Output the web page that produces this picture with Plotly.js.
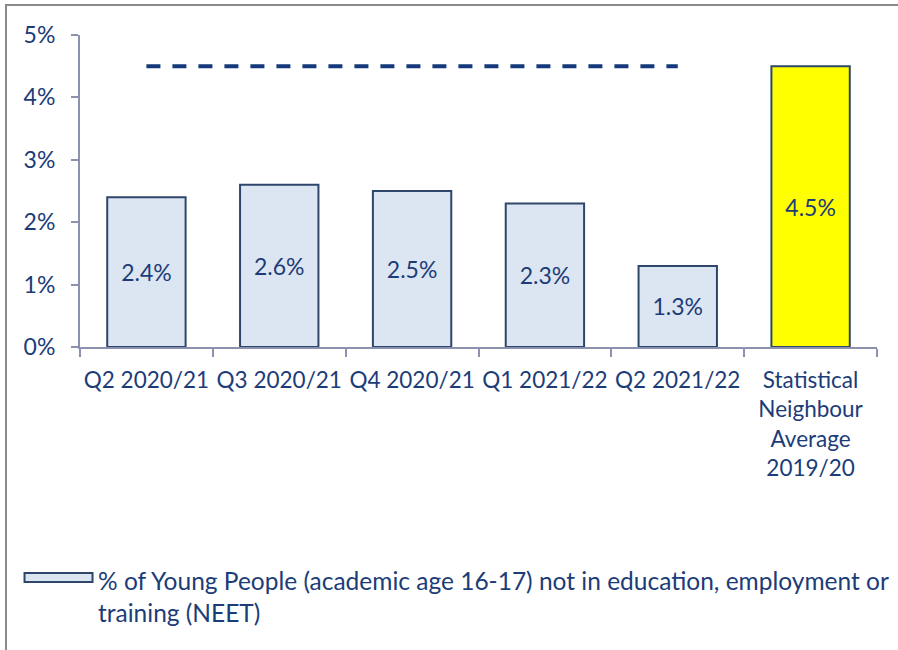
<!DOCTYPE html>
<html>
<head>
<meta charset="utf-8">
<script src="https://cdn.plot.ly/plotly-3.0.1.min.js"></script>
<style>
  html, body { margin: 0; padding: 0; background: #fff; }
  #wrap { position: relative; width: 898px; height: 650px; overflow: hidden; }
  #chart { position: absolute; left: 0; top: 0; width: 898px; height: 650px; }
  #frame { position: absolute; left: 5px; top: 4px; width: 900px; height: 700px;
           border-left: 2px solid #8a8a8a; border-top: 2px solid #8a8a8a; pointer-events: none; }
</style>
</head>
<body>
<div id="wrap">
  <div id="chart"></div>
  <div id="frame"></div>
</div>
<script>
// ---- data ----
const categories = ["Q2 2020/21", "Q3 2020/21", "Q4 2020/21", "Q1 2021/22", "Q2 2021/22",
                    "Statistical<br>Neighbour<br>Average<br>2019/20"];
const neetValues = [2.4, 2.6, 2.5, 2.3, 1.3, 4.5];
const neighbourLineCategories = ["Q2 2020/21", "Q3 2020/21", "Q4 2020/21", "Q1 2021/22", "Q2 2021/22"];
const neighbourLineValues = [4.5, 4.5, 4.5, 4.5, 4.5];
const seriesName = "% of Young People (academic age 16-17) not in education, employment or<br>training (NEET)";
const yTickValues = [0, 1, 2, 3, 4, 5];
const yTickLabels = ["0%", "1%", "2%", "3%", "4%", "5%"];

// ---- styles ----
const navy = "#1c3c78";
const axisGrey = "#8c92ad";
const barFill = "#dce6f2";
const barOutline = "#2e4669";
const highlight = "#ffff00";
const fontFamily = "Lato, 'Open Sans', sans-serif";

const barColors = categories.map((c, i) => i === categories.length - 1 ? highlight : barFill);

const traces = [
  {
    type: "bar",
    x: categories,
    y: neetValues,
    name: seriesName,
    marker: { color: barColors, line: { color: barOutline, width: 2 } },
    texttemplate: "%{y:.1f}%",
    textposition: "inside",
    insidetextanchor: "middle",
    textangle: 0,
    insidetextfont: { family: fontFamily, size: 23, color: navy },
    constraintext: "none",
    hoverinfo: "x+y",
    showlegend: true
  },
  {
    type: "scatter",
    mode: "lines",
    x: neighbourLineCategories,
    y: neighbourLineValues,
    line: { color: "#143a7c", width: 4, dash: "14px,12px" },
    showlegend: false,
    hoverinfo: "skip"
  }
];

const layout = {
  width: 898,
  height: 650,
  margin: { l: 80, r: 21, t: 35, b: 303, autoexpand: false },
  paper_bgcolor: "#ffffff",
  plot_bgcolor: "#ffffff",
  font: { family: fontFamily, size: 22, color: navy },
  bargap: 0.41,
  showlegend: true,
  xaxis: {
    type: "category",
    categoryorder: "array",
    categoryarray: categories,
    automargin: false,
    tickangle: 0,
    showline: true,
    linecolor: axisGrey,
    linewidth: 2,
    ticks: "outside",
    tickson: "boundaries",
    ticklen: 8,
    tickwidth: 2,
    tickcolor: axisGrey,
    ticklabelstandoff: 12,
    tickfont: { family: fontFamily, size: 22.5, color: navy },
    showgrid: false,
    zeroline: false,
    fixedrange: true
  },
  yaxis: {
    range: [0, 5],
    automargin: false,
    tickmode: "array",
    tickvals: yTickValues,
    ticktext: yTickLabels,
    showline: true,
    linecolor: axisGrey,
    linewidth: 2,
    ticks: "outside",
    ticklen: 7,
    tickwidth: 2,
    tickcolor: axisGrey,
    ticklabelstandoff: 11,
    tickfont: { family: fontFamily, size: 23, color: navy },
    showgrid: false,
    zeroline: false,
    fixedrange: true
  },
  legend: {
    xref: "container",
    yref: "container",
    x: 0.0145,
    y: 0.142,
    xanchor: "left",
    yanchor: "top",
    bgcolor: "rgba(0,0,0,0)",
    itemwidth: 75,
    font: { family: fontFamily, size: 24.5, color: navy },
    traceorder: "normal"
  }
};

Plotly.newPlot("chart", traces, layout, { displayModeBar: false, staticPlot: true }).then(gd => {
  // widen the legend swatch into a flat bar like the original
  gd.querySelectorAll(".legend .legendpoints path").forEach(p => {
    p.setAttribute("d", "M37,-14H-31V-23H37Z");
    p.style.fill = barFill;
    p.style.stroke = barOutline;
    p.style.strokeWidth = "2px";
  });
});
</script>
</body>
</html>
